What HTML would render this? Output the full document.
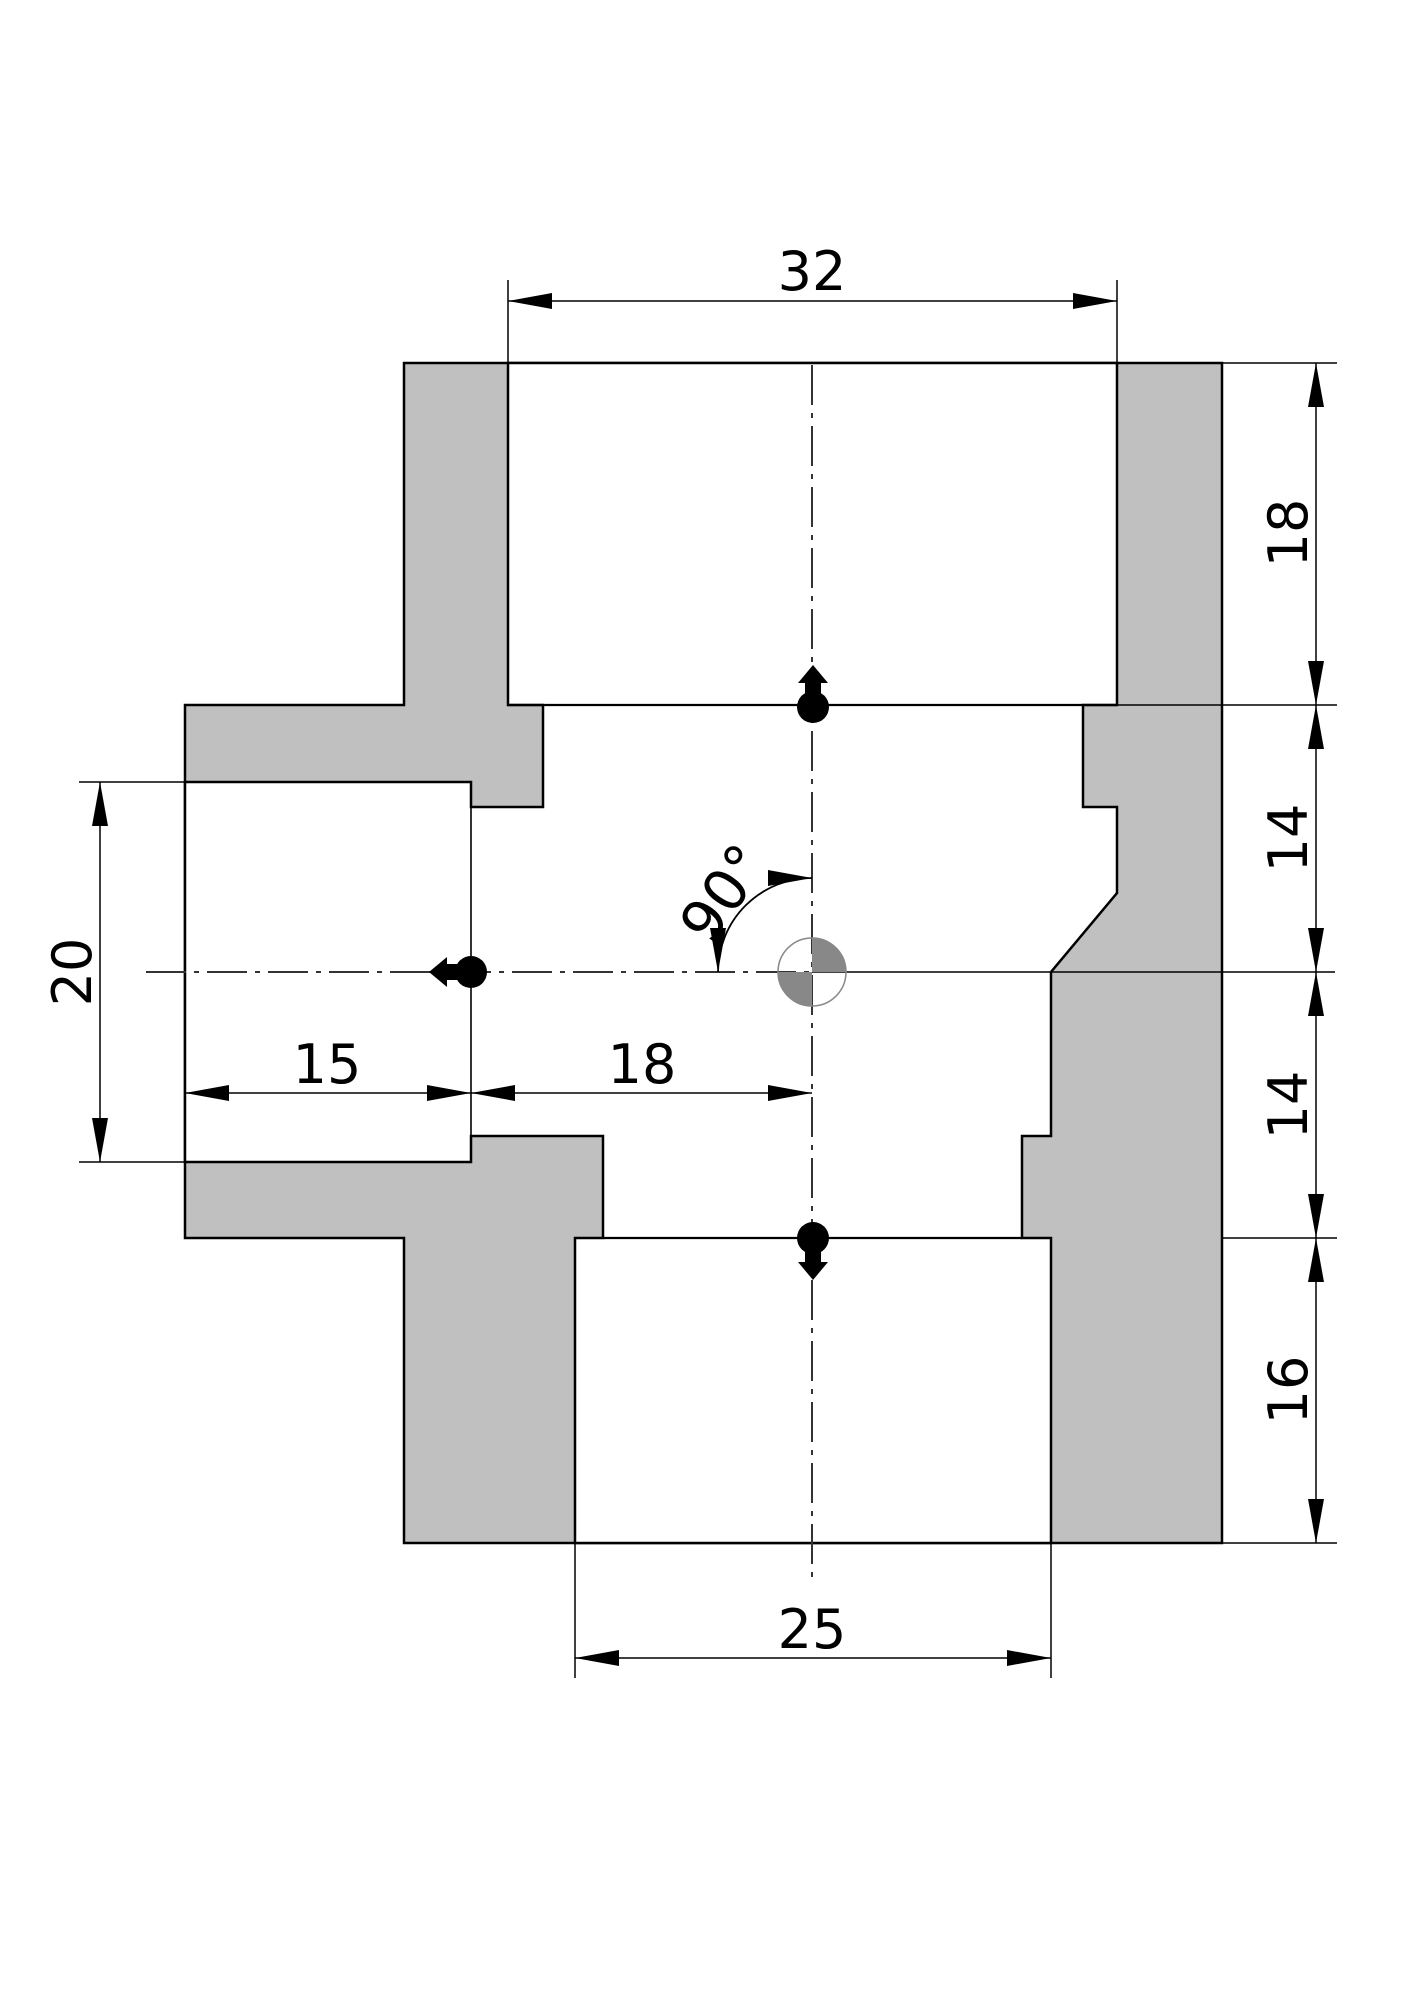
<!DOCTYPE html>
<html><head><meta charset="utf-8"><style>html,body{margin:0;padding:0;background:#fff}svg{display:block}</style></head>
<body>
<svg width="1414" height="2000" viewBox="0 0 1414 2000" xmlns="http://www.w3.org/2000/svg" font-family="DejaVu Sans, Liberation Sans, sans-serif">
<defs>
<marker id="a" viewBox="0 0 44 16" refX="44" refY="8" markerWidth="44" markerHeight="16" markerUnits="userSpaceOnUse" orient="auto"><path d="M0,0 L44,8 L0,16 Z" fill="#000"/></marker>
<marker id="b" viewBox="0 0 44 16" refX="0" refY="8" markerWidth="44" markerHeight="16" markerUnits="userSpaceOnUse" orient="auto"><path d="M44,0 L0,8 L44,16 Z" fill="#000"/></marker>
</defs>
<path d="M404,363 L1222,363 L1222,1543 L404,1543 L404,1238 L185,1238 L185,705 L404,705 Z" fill="#c0c0c0" stroke="#000" stroke-width="2.5"/>
<path d="M508,363 L1117,363 L1117,705 L1083,705 L1083,807 L1117,807 L1117,893 L1051,972 L1051,1136 L1022,1136 L1022,1238 L1051,1238 L1051,1543 L575,1543 L575,1238 L603,1238 L603,1136 L471,1136 L471,1162 L185,1162 L185,782 L471,782 L471,807 L543,807 L543,705 L508,705 Z" fill="#fff" stroke="#000" stroke-width="2.5"/>
<g stroke="#000" stroke-width="2.2">
<line x1="508" y1="705" x2="1117" y2="705"/>
<line x1="603" y1="1238" x2="1022" y2="1238"/>
<line x1="471" y1="807" x2="471" y2="1136" stroke-width="1.6"/>
</g>
<g stroke="#333" stroke-width="2" stroke-dasharray="40,8,5,8" fill="none">
<line x1="812" y1="365" x2="812" y2="1582"/>
<line x1="146" y1="972" x2="812" y2="972"/>
</g>
<line x1="812" y1="972" x2="1335" y2="972" stroke="#000" stroke-width="1.5"/>
<path d="M812,972 L812,938 A34,34 0 0 1 846,972 Z" fill="#888"/>
<path d="M812,972 L812,1006 A34,34 0 0 1 778,972 Z" fill="#888"/>
<circle cx="812" cy="972" r="34" fill="none" stroke="#888" stroke-width="1.5"/>
<g fill="#000">
<circle cx="813" cy="707" r="16"/><rect x="805" y="680" width="16" height="25"/><path d="M798,683 L813,665 L828,683 Z"/>
<circle cx="813" cy="1238" r="16"/><rect x="805" y="1240" width="16" height="25"/><path d="M798,1262 L813,1280 L828,1262 Z"/>
<circle cx="471" cy="972" r="16"/><rect x="444" y="964" width="25" height="16"/><path d="M447,957 L429,972 L447,987 Z"/>
</g>
<g stroke="#000" stroke-width="1.5" fill="none">
<line x1="508" y1="280" x2="508" y2="363"/>
<line x1="1117" y1="280" x2="1117" y2="363"/>
<line x1="508" y1="301" x2="1117" y2="301" marker-start="url(#b)" marker-end="url(#a)"/>
<line x1="575" y1="1543" x2="575" y2="1678"/>
<line x1="1051" y1="1543" x2="1051" y2="1678"/>
<line x1="575" y1="1658" x2="1051" y2="1658" marker-start="url(#b)" marker-end="url(#a)"/>
<line x1="79" y1="782" x2="185" y2="782"/>
<line x1="79" y1="1162" x2="185" y2="1162"/>
<line x1="100" y1="782" x2="100" y2="1162" marker-start="url(#b)" marker-end="url(#a)"/>
<line x1="185" y1="1093" x2="471" y2="1093" marker-start="url(#b)" marker-end="url(#a)"/>
<line x1="471" y1="1093" x2="812" y2="1093" marker-start="url(#b)" marker-end="url(#a)"/>
<line x1="1222" y1="363" x2="1337" y2="363"/>
<line x1="1117" y1="705" x2="1337" y2="705"/>
<line x1="1222" y1="1238" x2="1337" y2="1238"/>
<line x1="1222" y1="1543" x2="1337" y2="1543"/>
<line x1="1316" y1="363" x2="1316" y2="705" marker-start="url(#b)" marker-end="url(#a)"/>
<line x1="1316" y1="705" x2="1316" y2="972" marker-start="url(#b)" marker-end="url(#a)"/>
<line x1="1316" y1="972" x2="1316" y2="1238" marker-start="url(#b)" marker-end="url(#a)"/>
<line x1="1316" y1="1238" x2="1316" y2="1543" marker-start="url(#b)" marker-end="url(#a)"/>
<path d="M718,972 A94,94 0 0 1 812,878" marker-start="url(#b)" marker-end="url(#a)" stroke-width="1.8"/>
</g>
<g font-size="54" fill="#000" text-anchor="middle">
<text x="812" y="290">32</text>
<text x="812" y="1648">25</text>
<text x="327" y="1083">15</text>
<text x="642" y="1083">18</text>
<text transform="translate(91,972) rotate(-90)">20</text>
<text transform="translate(1307,533) rotate(-90)">18</text>
<text transform="translate(1307,838) rotate(-90)">14</text>
<text transform="translate(1307,1105) rotate(-90)">14</text>
<text transform="translate(1307,1390) rotate(-90)">16</text>
<text font-size="58" transform="translate(740,905) rotate(-55)">90°</text>
</g>
</svg>
</body></html>
